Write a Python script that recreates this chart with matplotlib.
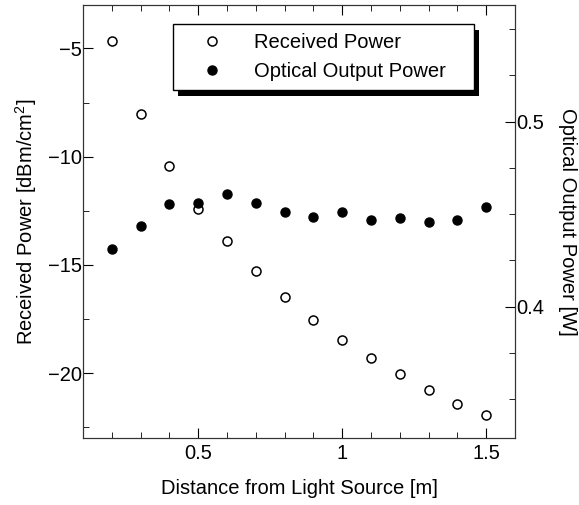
import matplotlib
matplotlib.use('Agg')
import matplotlib.pyplot as plt
import matplotlib.patheffects as pe
from matplotlib.ticker import MultipleLocator

plt.rcParams['font.family'] = ['Liberation Sans', 'DejaVu Sans']
plt.rcParams['mathtext.default'] = 'regular'

# data
distance = [0.2, 0.3, 0.4, 0.5, 0.6, 0.7, 0.8, 0.9, 1.0, 1.1, 1.2, 1.3, 1.4, 1.5]
received = [-4.66, -8.04, -10.44, -12.40, -13.90, -15.29, -16.49, -17.55,
            -18.45, -19.31, -20.06, -20.77, -21.41, -21.95]
optical = [0.431, 0.4436, 0.4553, 0.4561, 0.4607, 0.4561, 0.4512, 0.4483,
           0.4510, 0.4469, 0.4478, 0.4459, 0.4469, 0.4541]

fs = 14.5

fig = plt.figure(figsize=(5.79, 5.05), dpi=100)
ax = fig.add_axes([0.1434, 0.1327, 0.746, 0.857])
ax2 = ax.twinx()

l1, = ax.plot(distance, received, 'o', mfc='white', mec='black', ms=6.5, mew=1.1,
              label='Received Power')
l2, = ax2.plot(distance, optical, 'o', mfc='black', mec='black', ms=6.5,
               label='Optical Output Power')

ax.set_xlim(0.1, 1.6)
ax.set_ylim(-23, -3)
ax2.set_ylim(0.329, 0.563)

ax.xaxis.set_major_locator(MultipleLocator(0.5))
ax.xaxis.set_minor_locator(MultipleLocator(0.1))
ax.yaxis.set_major_locator(MultipleLocator(5))
ax.yaxis.set_minor_locator(MultipleLocator(2.5))
ax2.yaxis.set_major_locator(MultipleLocator(0.1))
ax2.yaxis.set_minor_locator(MultipleLocator(0.025))
ax.set_xticks([0.5, 1.0, 1.5])
ax.set_xticklabels(['0.5', '1', '1.5'])

ax.tick_params(axis='x', which='both', direction='in', top=True)
ax.tick_params(axis='y', which='both', direction='in', right=False)
ax.tick_params(which='major', length=7, labelsize=fs, pad=4)
ax.tick_params(axis='y', which='major', pad=1)
ax.tick_params(which='minor', length=4)
ax2.tick_params(which='both', direction='in')
ax2.tick_params(which='major', length=7, labelsize=fs, pad=1)
ax2.tick_params(which='minor', length=4)

for a in (ax, ax2):
    for s in a.spines.values():
        s.set_color('#333333')

ax.set_xlabel('Distance from Light Source [m]', fontsize=fs, labelpad=12)
ax.set_ylabel('Received Power [dBm/cm$^2$]', fontsize=fs, labelpad=6)
ax2.set_ylabel('Optical Output Power [W]', fontsize=fs, rotation=270,
               va='bottom', labelpad=10)

leg = ax2.legend([l1, l2], ['Received Power', 'Optical Output Power'],
                 loc='upper left', bbox_to_anchor=(0.208, 0.808, 0.697, 0.148),
                 mode='expand', fontsize=fs,
                 fancybox=False, framealpha=1, edgecolor='black',
                 borderpad=0.45, handletextpad=0.6, borderaxespad=0,
                 labelspacing=0.5, handlelength=3.0)
leg.get_frame().set_linewidth(1.0)
leg.get_frame().set_path_effects([
    pe.SimplePatchShadow(offset=(4, -4), shadow_rgbFace='black', alpha=1),
    pe.Normal()])

fig.savefig('out.png', dpi=100)
